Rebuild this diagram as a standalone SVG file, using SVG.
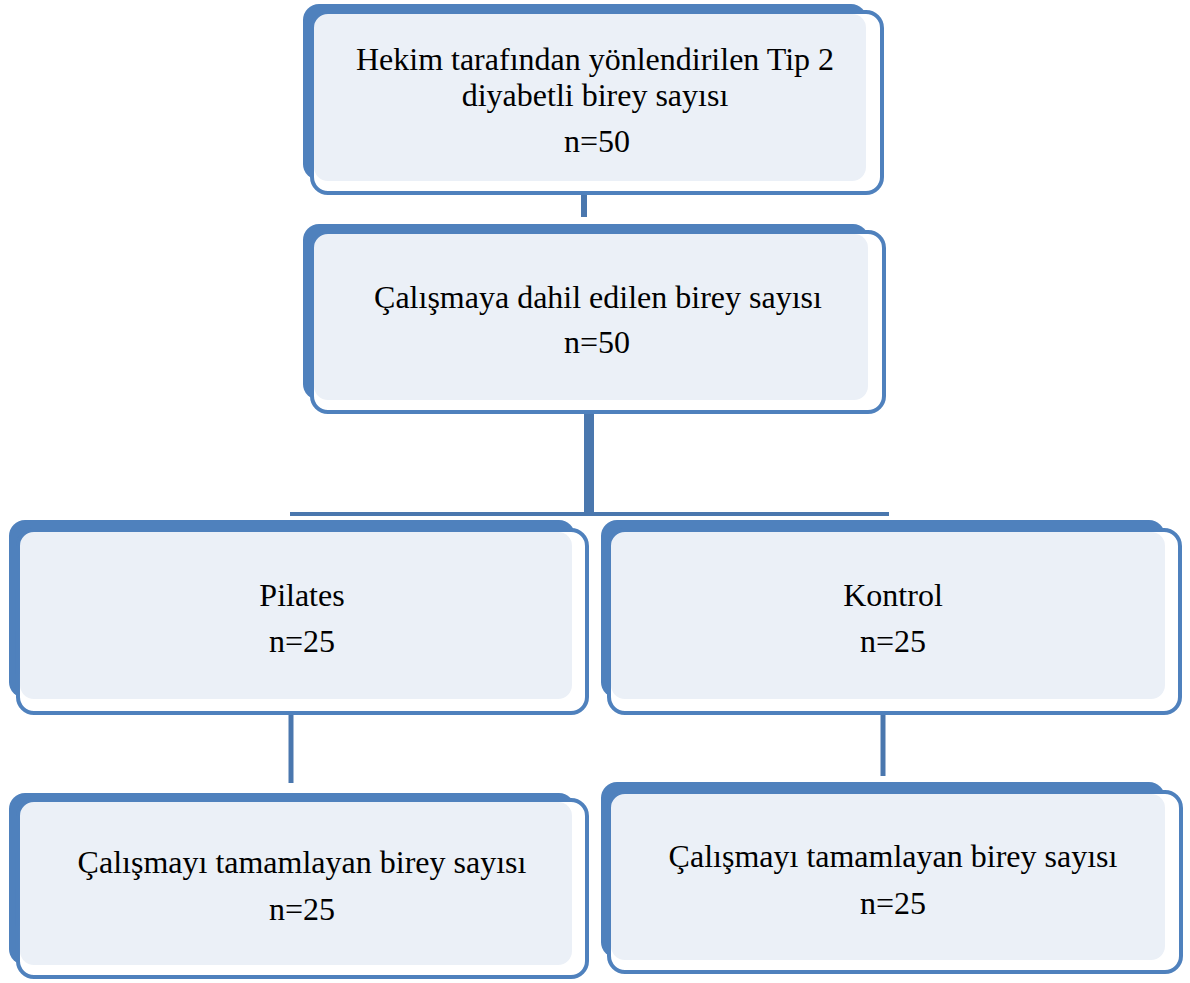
<svg xmlns="http://www.w3.org/2000/svg" width="1190" height="983" viewBox="0 0 1190 983">
<style>
.back{fill:#4F81BD}
.fill{fill:#EBF0F7}
.out{fill:none;stroke:#4F81BD;stroke-width:4}
.c{stroke:#4A77AE;fill:none}
</style>
<rect width="1190" height="983" fill="#fff"/>
<g id="connectors">
<line class="c" x1="584" y1="193" x2="584" y2="217" stroke-width="6"/>
<line class="c" x1="589" y1="405" x2="589" y2="516" stroke-width="10"/>
<line class="c" x1="290" y1="514" x2="889" y2="514" stroke-width="4"/>
<line class="c" x1="291" y1="705" x2="291" y2="783" stroke-width="5"/>
<line class="c" x1="883" y1="705" x2="883" y2="776" stroke-width="5"/>
</g>
<g id="n1">
<rect class="back" x="303" y="4" width="564" height="176" rx="16"/>
<rect x="312" y="12" width="570" height="181" rx="16" fill="#fff"/>
<rect class="fill" x="314" y="14" width="552" height="167" rx="14"/>
<rect class="out" x="312" y="12" width="570" height="181" rx="16"/>
</g>
<g id="n2">
<rect class="back" x="303" y="224" width="566" height="176" rx="16"/>
<rect x="312" y="232" width="572" height="180" rx="16" fill="#fff"/>
<rect class="fill" x="314" y="234" width="554" height="166" rx="14"/>
<rect class="out" x="312" y="232" width="572" height="180" rx="16"/>
</g>
<g id="n3">
<rect class="back" x="9" y="520" width="566" height="178" rx="16"/>
<rect x="18" y="530" width="569" height="183" rx="16" fill="#fff"/>
<rect class="fill" x="20" y="532" width="552" height="167" rx="14"/>
<rect class="out" x="18" y="530" width="569" height="183" rx="16"/>
</g>
<g id="n4">
<rect class="back" x="601" y="520" width="564" height="178" rx="16"/>
<rect x="609" y="530" width="571" height="183" rx="16" fill="#fff"/>
<rect class="fill" x="611" y="532" width="554" height="167" rx="14"/>
<rect class="out" x="609" y="530" width="571" height="183" rx="16"/>
</g>
<g id="n5">
<rect class="back" x="9" y="793" width="566" height="172" rx="16"/>
<rect x="18" y="800" width="569" height="177" rx="16" fill="#fff"/>
<rect class="fill" x="20" y="802" width="552" height="163" rx="14"/>
<rect class="out" x="18" y="800" width="569" height="177" rx="16"/>
</g>
<g id="n6">
<rect class="back" x="601" y="782" width="564" height="176" rx="16"/>
<rect x="609" y="792" width="572" height="180" rx="16" fill="#fff"/>
<rect class="fill" x="611" y="794" width="554" height="166" rx="14"/>
<rect class="out" x="609" y="792" width="572" height="180" rx="16"/>
</g>
<g id="labels" font-family="Liberation Serif, Times New Roman, serif" font-size="32" fill="#000" text-anchor="middle">
<text x="595" y="70">Hekim tarafından yönlendirilen Tip 2</text>
<text x="595" y="106">diyabetli birey sayısı</text>
<text x="597" y="152">n=50</text>
<text x="598" y="308">Çalışmaya dahil edilen birey sayısı</text>
<text x="597" y="353">n=50</text>
<text x="302" y="606">Pilates</text>
<text x="302" y="652">n=25</text>
<text x="893" y="606">Kontrol</text>
<text x="893" y="652">n=25</text>
<text x="302" y="873">Çalışmayı tamamlayan birey sayısı</text>
<text x="302" y="920">n=25</text>
<text x="893" y="867">Çalışmayı tamamlayan birey sayısı</text>
<text x="893" y="914">n=25</text>
</g>
</svg>
